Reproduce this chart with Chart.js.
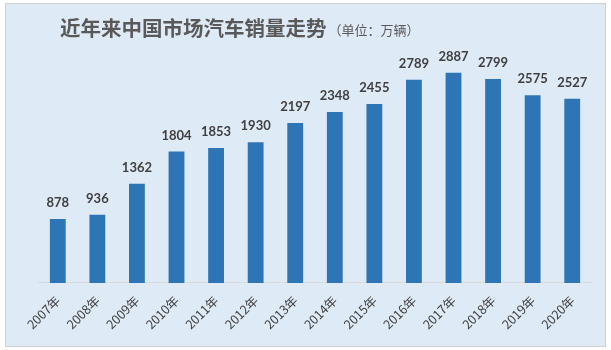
<!DOCTYPE html>
<html>
<head>
<meta charset="utf-8">
<script src="https://cdn.jsdelivr.net/npm/chart.js@4"></script>
<style>
  body { margin: 0; background: #ffffff; }
</style>
</head>
<body>
<canvas id="sales-chart" width="611" height="350"></canvas>
<script>
// data
var years = ['2007年','2008年','2009年','2010年','2011年','2012年','2013年',
             '2014年','2015年','2016年','2017年','2018年','2019年','2020年'];
var sales = [878, 936, 1362, 1804, 1853, 1930, 2197, 2348, 2455, 2789, 2887, 2799, 2575, 2527];
var titleMain = '近年来中国市场汽车销量走势';
var titleUnit = '（单位：万辆）';

// panel background + border, drawn before everything else
var panelPlugin = {
  id: 'panel',
  beforeDraw: function(chart) {
    var c = chart.ctx;
    c.save();
    c.fillStyle = '#ffffff';
    c.fillRect(0, 0, chart.width, chart.height);
    c.fillStyle = '#deeaf6';
    c.fillRect(5, 3, 601, 344);
    c.strokeStyle = '#d0d0d0';
    c.lineWidth = 1;
    c.strokeRect(5.5, 3.5, 600, 343);
    c.restore();
  },
  afterDraw: function(chart) {
    var c = chart.ctx;
    c.save();
    c.textBaseline = 'middle';
    c.fillStyle = '#595959';
    c.font = 'bold 20.5px "Noto Sans CJK SC"';
    c.fillText(titleMain, 60, 28);
    var w = c.measureText(titleMain).width;
    c.font = '13px "Noto Sans CJK SC"';
    c.fillText(titleUnit, 60 + w + 2, 30);
    c.restore();
  }
};

// value on top of each bar
var valuePlugin = {
  id: 'values',
  afterDatasetsDraw: function(chart) {
    var c = chart.ctx;
    var meta = chart.getDatasetMeta(0);
    c.save();
    c.font = 'bold 13px Lato';
    c.fillStyle = '#404040';
    c.textAlign = 'center';
    c.textBaseline = 'alphabetic';
    meta.data.forEach(function(bar, i) {
      c.fillText(sales[i], bar.x, bar.y - 12);
    });
    c.restore();
  }
};

var ctx = document.getElementById('sales-chart').getContext('2d');
var chart = new Chart(ctx, {
  type: 'bar',
  data: {
    labels: years,
    datasets: [{
      data: sales,
      backgroundColor: '#2e75b6',
      categoryPercentage: 1,
      barPercentage: 0.4
    }]
  },
  options: {
    responsive: false,
    animation: false,
    layout: { padding: { left: 38, right: 19, top: 28, bottom: 16 } },
    plugins: {
      legend: { display: false },
      tooltip: { enabled: false }
    },
    scales: {
      x: {
        grid: { display: false },
        border: { display: true, color: '#d9d9d9', width: 1 },
        ticks: {
          minRotation: 45,
          maxRotation: 45,
          color: '#404040',
          padding: 2,
          font: { family: '"Noto Sans CJK SC"', size: 12.5 }
        }
      },
      y: {
        display: false,
        min: 0,
        max: 3500
      }
    }
  },
  plugins: [panelPlugin, valuePlugin]
});
</script>
</body>
</html>
